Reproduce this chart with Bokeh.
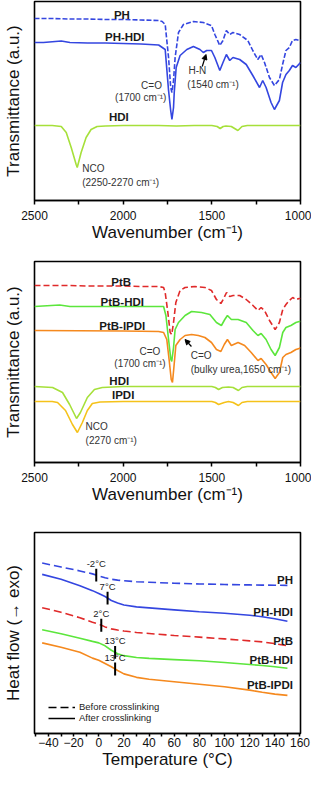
from bokeh.plotting import figure
from bokeh.layouts import column
from bokeh.models import Range1d, FixedTicker, Label, Arrow, NormalHead, Legend, LegendItem
from bokeh.embed import file_html
from bokeh.resources import INLINE
import numpy as np

FONT = "Liberation Sans"
BLUE = "#3446e0"
LIME = "#a6e03a"
RED = "#e02a2a"
GREEN = "#5ce63c"
ORANGE = "#f5891e"
GOLD = "#f5c21a"

# ---------------- data: panel a (FTIR, transmittance a.u.) ----------------
wn_ph = [2500, 2400, 2300, 2200, 2100, 2000, 1900, 1800, 1780, 1763, 1744, 1732, 1725, 1716, 1707, 1688, 1660,
         1604, 1548, 1502, 1483, 1455, 1437, 1418, 1399, 1381, 1343, 1297, 1269, 1241, 1222, 1203, 1175, 1147, 1119,
         1101, 1082, 1063, 1045, 1026, 1007, 1000]
t_ph = [182, 182, 181.5, 181.5, 181, 181, 180.5, 180, 179, 176, 143, 113, 108, 120, 143, 168, 176,
        179, 178, 175, 166, 155, 160, 170, 166, 168, 166, 160, 150, 141, 146, 138, 123, 115, 121,
        136, 150, 153, 160, 161, 160, 161]

wn_phhdi = [2500, 2450, 2349, 2300, 2200, 2100, 2000, 1900, 1800, 1763, 1744, 1732, 1725, 1716, 1712, 1701, 1679,
            1641, 1604, 1567, 1548, 1529, 1502, 1483, 1455, 1437, 1418, 1399, 1381, 1343, 1306, 1269, 1231, 1213,
            1194, 1166, 1147, 1119, 1101, 1082, 1063, 1045, 1026, 1000]
t_phhdi = [158, 158, 159.5, 158, 157.5, 157.5, 157, 156.5, 155.5, 151, 110, 90, 81, 93, 108, 133, 145,
           151, 154, 151, 148, 150, 150, 143, 130, 138, 146, 140, 143, 141, 136, 125, 113, 120,
           113, 98, 91, 100, 118, 126, 130, 135, 133, 138]

wn_hdi_a = [2500, 2400, 2349, 2321, 2293, 2265, 2259, 2237, 2209, 2181, 2147, 2100, 2000, 1800, 1700, 1600, 1500,
            1470, 1453, 1436, 1420, 1390, 1353, 1330, 1300, 1000]
t_hdi_a = [75, 75, 74, 68, 53, 36, 33, 48, 63, 71, 74, 74.5, 75, 75, 74.5, 75, 75,
           74, 72, 74, 74.5, 74, 70, 74, 75, 75]

# ---------------- data: panel b ----------------
wn_ptb = [2500, 2400, 2300, 2200, 2100, 2000, 1900, 1800, 1772, 1763, 1748, 1735, 1726, 1716, 1703, 1679, 1651,
          1595, 1539, 1502, 1474, 1449, 1436, 1417, 1399, 1380, 1343, 1306, 1268, 1240, 1222, 1203, 1175, 1143, 1119,
          1100, 1082, 1063, 1044, 1026, 1007, 1000]
t_ptb = [177, 177, 177, 176.5, 176.5, 176.5, 176, 176, 175, 170, 150, 130, 128, 140, 160, 172, 175,
         176, 175, 172, 163, 159, 163, 170, 166, 167, 167, 163, 157, 152, 155, 152, 142, 133, 140,
         153, 158, 162, 165, 163, 164, 164]

wn_ptbhdi = [2500, 2358, 2300, 2200, 2000, 1800, 1772, 1759, 1744, 1731, 1726, 1716, 1707, 1688, 1651, 1614,
             1558, 1511, 1474, 1446, 1427, 1412, 1390, 1352, 1306, 1268, 1240, 1222, 1194, 1166, 1143, 1119, 1100,
             1082, 1054, 1026, 1007, 1000]
t_ptbhdi = [156, 157.5, 156, 156, 156, 156, 156, 147, 123, 103, 101, 115, 133, 140, 147, 151,
            150, 148, 140, 137, 143, 147, 143, 143, 140, 132, 127, 129, 123, 113, 107, 115, 130,
            135, 137, 140, 141, 141]

wn_ptbipdi = [2500, 2000, 1800, 1772, 1754, 1741, 1729, 1722, 1714, 1703, 1679, 1651, 1614,
              1576, 1539, 1502, 1474, 1449, 1430, 1412, 1390, 1352, 1315, 1278, 1240, 1222, 1194, 1166, 1143, 1119,
              1100, 1082, 1054, 1026, 1007, 1000]
t_ptbipdi = [132, 131.5, 131, 130, 123, 103, 83, 80, 95, 117, 123, 127, 128,
             127, 125, 120, 113, 111, 118, 123, 117, 120, 117, 110, 102, 104, 98, 90, 84, 90,
             105, 108, 110, 113, 114, 115]

wn_hdi_b = [2500, 2398, 2342, 2302, 2274, 2263, 2241, 2202, 2162, 2118, 2000, 1500, 1480, 1462, 1440, 1406, 1380,
            1350, 1330, 1300, 1000]
t_hdi_b = [76, 75, 70, 58, 48, 44, 50, 65, 73, 75, 76, 76, 75, 73, 75, 75.5, 75, 72, 75, 76, 76]

wn_ipdi = [2500, 2400, 2370, 2325, 2286, 2258, 2230, 2202, 2174, 2130, 2000, 1500, 1480, 1462, 1430, 1406, 1380,
           1350, 1330, 1300, 1000]
t_ipdi = [61, 61, 60, 52, 38, 30, 40, 52, 59, 60.5, 61, 61, 60, 58, 60, 61, 60, 57, 60, 61, 61]

# ---------------- data: panel c (DSC, heat flow a.u.) ----------------
temp = [-45, -30, -15, -5, 0, 5, 10, 15, 20, 30, 40, 60, 80, 100, 120, 130, 140, 150]
hf_ph = [173, 169, 165, 162, 160, 158, 156.5, 155.7, 155, 154, 153.5, 152.5, 151.8, 151.2, 150.8, 150.6, 150.5, 150.3]
hf_phhdi = [161.5, 156.5, 150, 145, 142, 139, 135, 132.5, 130.5, 128.5, 127.5, 125.5, 123.5, 122, 120, 118.5, 116.5, 114]
hf_ptb = [127.7, 123, 117.5, 113, 111, 108.2, 106.2, 105, 104, 102.5, 101.5, 99.5, 97.8, 96, 94, 93, 91.2, 89]
hf_ptbhdi = [105.3, 101.2, 96.7, 93.5, 92, 89, 84.5, 81, 79, 77.2, 76.2, 75, 73.8, 72, 70, 69, 67.7, 66.2]
hf_ptbipdi = [92, 87.5, 82.5, 76.5, 74.3, 71, 67.7, 64, 60.5, 57, 55, 52.5, 50, 47.4, 44, 41.8, 40, 38.7]

tg_values = [-2, 7, 2, 13, 13]
tg_labels = ["-2°C", "7°C", "2°C", "13°C", "13°C"]

wn_major = [2500, 2000, 1500, 1000]
wn_minor = [2250, 1750, 1250]
t_major = [-40, -20, 0, 20, 40, 60, 80, 100, 120, 140, 160]
t_minor = [-50, -30, -10, 10, 30, 50, 70, 90, 110, 130, 150]


def base_fig(h, xr, yr, top, bottom, left, right, xlabel, ylabel, major, minor,
             tick_out, label_standoff, title_standoff):
    p = figure(width=311, height=h, x_range=xr, y_range=yr, output_backend="svg",
               toolbar_location=None, title=None, min_border_top=top, min_border_bottom=bottom,
               min_border_left=left, min_border_right=right)
    p.grid.visible = False
    p.outline_line_color = "black"
    p.outline_line_width = 1.6
    p.outline_line_alpha = 1.0
    xa = p.xaxis[0]
    xa.ticker = FixedTicker(ticks=major, minor_ticks=minor)
    xa.axis_label = xlabel
    xa.axis_label_text_font = FONT
    xa.axis_label_text_font_size = "17px"
    xa.axis_label_text_font_style = "normal"
    xa.axis_label_text_color = "#111111"
    xa.axis_label_standoff = title_standoff
    xa.major_label_text_font = FONT
    xa.major_label_text_font_size = "12px"
    xa.major_label_text_color = "#111111"
    xa.major_label_standoff = label_standoff
    xa.axis_line_color = "black"
    xa.axis_line_width = 1.6
    xa.major_tick_line_color = "black"
    xa.minor_tick_line_color = "black"
    xa.major_tick_line_width = 1.5
    xa.minor_tick_line_width = 1.5
    xa.major_tick_in = 0
    xa.minor_tick_in = 0
    xa.major_tick_out = tick_out
    xa.minor_tick_out = tick_out
    ya = p.yaxis[0]
    ya.ticker = FixedTicker(ticks=[])
    ya.major_label_text_font_size = "0px"
    ya.major_label_standoff = 0
    ya.major_tick_out = 0
    ya.minor_tick_out = 0
    ya.major_tick_in = 0
    ya.minor_tick_in = 0
    ya.axis_line_color = None
    ya.major_tick_line_color = None
    ya.minor_tick_line_color = None
    ya.axis_label = ylabel
    ya.axis_label_text_font = FONT
    ya.axis_label_text_font_size = "17px"
    ya.axis_label_text_font_style = "normal"
    ya.axis_label_text_color = "#111111"
    ya.axis_label_standoff = 12
    return p


def add_text(p, x, y, text, size="10px", bold=False, align="center", color="#333333"):
    p.add_layout(Label(x=x, y=y, text=text, text_font=FONT, text_font_size=size,
                       text_font_style="bold" if bold else "normal", text_align=align,
                       text_baseline="middle", text_color=color))


def panel_letter(p, letter, y):
    p.add_layout(Label(x=-31, y=y, x_units="screen", y_units="screen", text=letter,
                       text_font=FONT, text_font_size="17px", text_font_style="bold",
                       text_baseline="top", text_align="left", text_color="black"))


# ---------------- panel a ----------------
fa = base_fig(247, Range1d(2500, 1000), Range1d(0, 199), 1, 47, 32, 11,
              "Wavenumber (cm⁻¹)", "Transmittance (a.u.)", wn_major, wn_minor, 4, 6, 0)
fa.line(wn_hdi_a, t_hdi_a, line_color=LIME, line_width=1.6)
fa.line(wn_phhdi, t_phhdi, line_color=BLUE, line_width=1.6)
fa.line(wn_ph, t_ph, line_color=BLUE, line_width=1.6, line_dash="5 2")
add_text(fa, 2007, 185.5, "PH", "11.5px", True, color="#1a1a1a")
add_text(fa, 1991, 163.5, "PH-HDI", "11.5px", True, color="#1a1a1a")
add_text(fa, 2024, 84, "HDI", "11.5px", True, color="#1a1a1a")
add_text(fa, 1840, 115.5, "C=O")
add_text(fa, 1901, 103, "(1700 cm⁻¹)")
add_text(fa, 1632, 130, "H-N", align="left")
add_text(fa, 1638, 116, "(1540 cm⁻¹)", align="left")
add_text(fa, 2231, 32, "NCO", align="left")
add_text(fa, 2231, 18, "(2250-2270 cm⁻¹)", align="left")
fa.add_layout(Arrow(end=NormalHead(size=5, fill_color="black", line_color="black"),
                    x_start=1554, y_start=134, x_end=1533, y_end=146,
                    line_color="black", line_width=1.2))
panel_letter(fa, "a)", 201)

# ---------------- panel b ----------------
fb = base_fig(262, Range1d(2500, 1000), Range1d(0, 201), 14, 47, 34, 9,
              "Wavenumber (cm⁻¹)", "Transmittance (a.u.)", wn_major, wn_minor, 4, 6, 0)
fb.line(wn_ipdi, t_ipdi, line_color=GOLD, line_width=1.6)
fb.line(wn_hdi_b, t_hdi_b, line_color=LIME, line_width=1.6)
fb.line(wn_ptbipdi, t_ptbipdi, line_color=ORANGE, line_width=1.6)
fb.line(wn_ptbhdi, t_ptbhdi, line_color=GREEN, line_width=1.6)
fb.line(wn_ptb, t_ptb, line_color=RED, line_width=1.6, line_dash="6 3")
add_text(fb, 2011, 181, "PtB", "11.5px", True, color="#1a1a1a")
add_text(fb, 2005, 160.5, "PtB-HDI", "11.5px", True, color="#1a1a1a")
add_text(fb, 2005, 137, "PtB-IPDI", "11.5px", True, color="#1a1a1a")
add_text(fb, 2022, 82, "HDI", "11.5px", True, color="#1a1a1a")
add_text(fb, 2000, 67.5, "IPDI", "11.5px", True, color="#1a1a1a")
add_text(fb, 1849, 111, "C=O")
add_text(fb, 1905, 99.5, "(1700 cm⁻¹)")
add_text(fb, 1619, 107.5, "C=O", align="left")
add_text(fb, 1619, 93, "(bulky urea,1650 cm⁻¹)", align="left")
add_text(fb, 2212, 36, "NCO", align="left")
add_text(fb, 2212, 22.5, "(2270 cm⁻¹)", align="left")
fb.add_layout(Arrow(end=NormalHead(size=5, fill_color="black", line_color="black"),
                    x_start=1615, y_start=116, x_end=1651, y_end=123,
                    line_color="black", line_width=1.2))
panel_letter(fb, "b)", 203)

# ---------------- panel c ----------------
fc = base_fig(264, Range1d(-51.1, 160.4), Range1d(0, 204), 23, 40, 33, 4,
              "Temperature (°C)", "Heat flow (→ exo)", t_major, t_minor, 3, 1, 0)
curves = [(hf_ph, BLUE, "8 4"), (hf_phhdi, BLUE, "solid"), (hf_ptb, RED, "8 4"),
          (hf_ptbhdi, GREEN, "solid"), (hf_ptbipdi, ORANGE, "solid")]
for ys, col, dash in curves:
    fc.line(temp, ys, line_color=col, line_width=1.6, line_dash=dash)
for (ys, col, dash), tg, lab in zip(curves, tg_values, tg_labels):
    yc = float(np.interp(tg, temp, ys))
    fc.segment(x0=[tg], y0=[yc - 6.5], x1=[tg], y1=[yc + 6.5], line_color="black", line_width=2)
    add_text(fc, tg, yc + 11.5, lab, "9.5px", color="#222222")
curve_names = ["PH", "PH-HDI", "PtB", "PtB-HDI", "PtB-IPDI"]
name_y = [156, 123.5, 94, 75, 49]
for nm, yy in zip(curve_names, name_y):
    add_text(fc, 154.4, yy, nm, "11.5px", True, align="right", color="#1a1a1a")
r1 = fc.line([np.nan], [np.nan], line_color="black", line_width=1.5, line_dash="8 4")
r2 = fc.line([np.nan], [np.nan], line_color="black", line_width=1.5)
leg = Legend(items=[LegendItem(label="Before crosslinking", renderers=[r1]),
                    LegendItem(label="After crosslinking", renderers=[r2])],
             location=(14, 10), border_line_color=None, background_fill_alpha=0,
             label_text_font=FONT, label_text_font_size="9.5px", label_text_color="#222222",
             glyph_width=27, glyph_height=10, label_height=10, spacing=0, padding=0,
             margin=0, label_standoff=4)
fc.add_layout(leg)
panel_letter(fc, "c)", 206)

layout = column(fa, fb, fc, spacing=0)
open("out.html", "w").write(file_html(layout, INLINE))
